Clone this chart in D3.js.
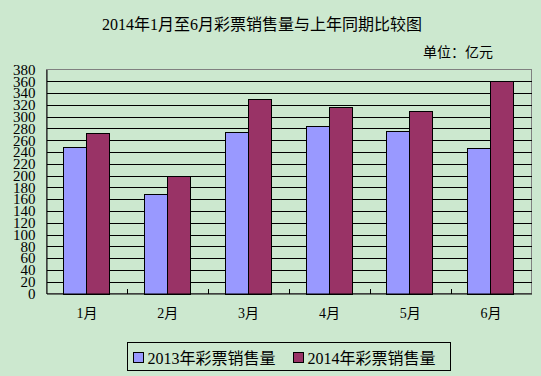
<!DOCTYPE html>
<html>
<head>
<meta charset="utf-8">
<script src="https://cdn.jsdelivr.net/npm/d3@7/dist/d3.min.js"></script>
<style>
  body { margin: 0; background: #CCE8CF; }
  svg { display: block; }
</style>
</head>
<body>
<svg id="chart" width="541" height="376"></svg>
<script>
const months = ["1月", "2月", "3月", "4月", "5月", "6月"];
const seriesNames = ["2013年彩票销售量", "2014年彩票销售量"];
const sales2013 = [249, 169, 274, 285, 275, 247];
const sales2014 = [273, 200, 330, 316, 309, 361];
const yTicks = [0, 20, 40, 60, 80, 100, 120, 140, 160, 180, 200, 220, 240, 260, 280, 300, 320, 340, 360, 380];
const colors = ["#9999FF", "#993366"];

const svg = d3.select("#chart");
const width = +svg.attr("width");
const height = +svg.attr("height");
const margin = { top: 69.5, right: 9.5, bottom: 82.5, left: 46.5 };
const serif = "'Liberation Serif', 'Noto Sans CJK SC', serif";

const data = months.map((m, i) => ({ month: m, values: [sales2013[i], sales2014[i]] }));

const x = d3.scaleBand()
    .domain(months)
    .range([margin.left, width - margin.right])
    .padding(0);

const xSub = d3.scaleBand()
    .domain(seriesNames)
    .range([0, x.bandwidth()])
    .paddingInner(0)
    .paddingOuter(0.76);

const y = d3.scaleLinear()
    .domain([0, 380])
    .range([height - margin.bottom, margin.top]);

// title
svg.append("text")
    .attr("x", 262)
    .attr("y", 30)
    .attr("text-anchor", "middle")
    .style("font-family", serif)
    .style("font-size", "16px")
    .text("2014年1月至6月彩票销售量与上年同期比较图");

svg.append("text")
    .attr("x", 493)
    .attr("y", 57)
    .attr("text-anchor", "end")
    .style("font-family", serif)
    .style("font-size", "14px")
    .text("单位：亿元");

// plot border
svg.append("rect")
    .attr("x", margin.left)
    .attr("y", y(380))
    .attr("width", width - margin.right - margin.left)
    .attr("height", y(0) - y(380))
    .attr("fill", "none")
    .attr("stroke", "#808080")
    .attr("shape-rendering", "crispEdges");

// gridlines
svg.append("g")
    .selectAll("line")
    .data(yTicks.filter(d => d > 0 && d < 380))
    .join("line")
    .attr("x1", margin.left)
    .attr("x2", width - margin.right)
    .attr("y1", d => Math.round(y(d)) + 0.5)
    .attr("y2", d => Math.round(y(d)) + 0.5)
    .attr("stroke", "#000")
    .attr("shape-rendering", "crispEdges");

// bars
svg.append("g")
    .selectAll("g")
    .data(data)
    .join("g")
    .attr("transform", d => `translate(${x(d.month)},0)`)
    .selectAll("rect")
    .data(d => d.values.map((v, i) => ({ key: seriesNames[i], value: v, i })))
    .join("rect")
    .attr("x", d => Math.round(xSub(d.key)))
    .attr("y", d => Math.round(y(d.value)) + 0.5)
    .attr("width", Math.round(xSub.bandwidth()))
    .attr("height", d => Math.round(y(0)) - Math.round(y(d.value)))
    .attr("fill", d => colors[d.i])
    .attr("stroke", "#000")
    .attr("shape-rendering", "crispEdges");

// y axis
const yAxis = svg.append("g")
    .attr("transform", `translate(${margin.left},0)`)
    .call(d3.axisLeft(y).tickValues(yTicks).tickSize(0).tickPadding(11));
yAxis.select(".domain").attr("stroke", "#000");
yAxis.selectAll("text")
    .style("font-family", serif)
    .style("font-size", "15px")
    .attr("fill", "#000");

// x axis
const xAxis = svg.append("g")
    .attr("transform", `translate(0,${height - margin.bottom})`)
    .call(d3.axisBottom(x).tickSize(0).tickPadding(15));
xAxis.select(".domain").attr("stroke", "#000");
xAxis.selectAll("text")
    .style("font-family", serif)
    .style("font-size", "14px")
    .attr("fill", "#000");

// ticks between categories, pointing up
svg.append("g")
    .selectAll("line")
    .data(months.slice(1))
    .join("line")
    .attr("x1", d => Math.round(x(d)) + 0.5)
    .attr("x2", d => Math.round(x(d)) + 0.5)
    .attr("y1", y(0))
    .attr("y2", y(0) - 5)
    .attr("stroke", "#000")
    .attr("shape-rendering", "crispEdges");

// legend
const legend = svg.append("g").attr("transform", "translate(127.5,342.5)");
legend.append("rect")
    .attr("width", 323)
    .attr("height", 28)
    .attr("fill", "none")
    .attr("stroke", "#000")
    .attr("shape-rendering", "crispEdges");

const legendX = [6, 166];
const items = legend.selectAll("g.item")
    .data(seriesNames)
    .join("g")
    .attr("class", "item")
    .attr("transform", (d, i) => `translate(${legendX[i]},0)`);
items.append("rect")
    .attr("y", 10)
    .attr("width", 10)
    .attr("height", 10)
    .attr("fill", (d, i) => colors[i])
    .attr("stroke", "#000")
    .attr("shape-rendering", "crispEdges");
items.append("text")
    .attr("x", 14)
    .attr("y", 21)
    .style("font-family", serif)
    .style("font-size", "16px")
    .text(d => d);
</script>
</body>
</html>
